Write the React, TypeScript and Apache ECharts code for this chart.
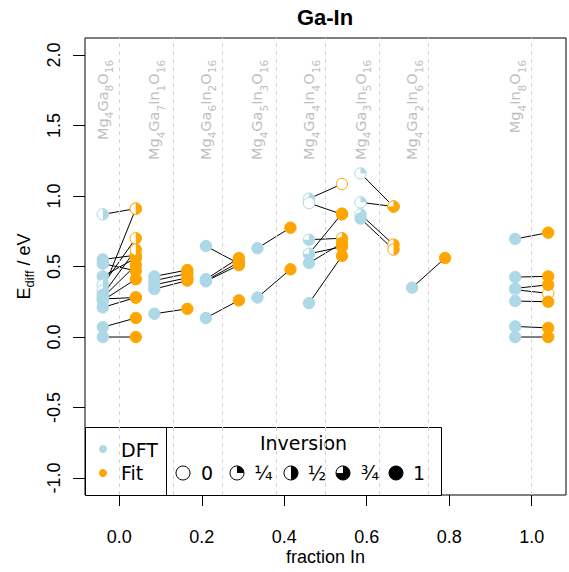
import React, { useEffect, useRef } from 'react';
import * as echarts from 'echarts';

const fractions = [0, 0.125, 0.25, 0.375, 0.5, 0.625, 0.75, 1.0];
const compositions = [
  'Mg4Ga8O16', 'Mg4Ga7In1O16', 'Mg4Ga6In2O16', 'Mg4Ga5In3O16',
  'Mg4Ga4In4O16', 'Mg4Ga3In5O16', 'Mg4Ga2In6O16', 'Mg4In8O16',
];

const dftEnergy = [
  [0.87, 0.55, 0.52, 0.43, 0.37, 0.33, 0.30, 0.28, 0.26, 0.27, 0.21, 0.07, 0.0],
  [0.43, 0.40, 0.37, 0.34, 0.165],
  [0.645, 0.41, 0.40, 0.395, 0.135],
  [0.63, 0.28],
  [0.98, 0.95, 0.69, 0.59, 0.59, 0.525, 0.24],
  [1.16, 0.955, 0.87, 0.84],
  [0.35],
  [0.695, 0.425, 0.335, 0.345, 0.255, 0.075, 0.0],
];
const fitEnergy = [
  [0.91, 0.58, 0.47, 0.56, 0.70, 0.91, 0.62, 0.51, 0.41, 0.28, 0.28, 0.135, 0.0],
  [0.475, 0.45, 0.42, 0.40, 0.20],
  [0.52, 0.56, 0.53, 0.51, 0.26],
  [0.775, 0.48],
  [1.085, 0.87, 0.70, 0.875, 0.64, 0.665, 0.575],
  [0.925, 0.925, 0.655, 0.62],
  [0.56],
  [0.74, 0.43, 0.31, 0.37, 0.25, 0.065, 0.0],
];
const dftInversion = [
  [0.5, 1, 1, 1, 0.5, 0.5, 1, 1, 1, 1, 1, 1, 1],
  [1, 1, 1, 1, 1],
  [1, 1, 1, 1, 1],
  [1, 1],
  [0.25, 0, 0.75, 0.75, 0.75, 1, 1],
  [0.25, 0.25, 0.5, 1],
  [1],
  [1, 1, 0, 1, 1, 1, 1],
];
const fitInversion = [
  [0.5, 1, 1, 1, 0.5, 0.5, 0.5, 1, 1, 1, 1, 1, 1],
  [1, 1, 1, 1, 1],
  [1, 1, 1, 1, 1],
  [1, 1],
  [0, 1, 0.75, 1, 1, 1, 1],
  [0.75, 0.75, 0.5, 0.5],
  [1],
  [1, 1, 0, 1, 1, 1, 1],
];

const xTicks = [0, 0.2, 0.4, 0.6, 0.8, 1.0];
const yTicks = [-1, -0.5, 0, 0.5, 1, 1.5, 2];
const dividers = [0, 0.125, 0.25, 0.375, 0.5, 0.625, 0.75, 1.0];
const inversionLevels = [0, 0.25, 0.5, 0.75, 1];
const inversionLabels = ['0', '¼', '½', '¾', '1'];

const DFT_COLOR = '#ADD8E6';
const FIT_COLOR = '#FFA500';
const OFFSET = 0.04;
const LABEL_Y = 2.0;

const AXIS_FONT = '"Liberation Sans", Arial, sans-serif';
const DEJAVU = '"DejaVu Sans", sans-serif';

function pieMarker(cx: number, cy: number, r: number, f: number, color: string) {
  const children: any[] = [
    {
      type: 'circle',
      shape: { cx, cy, r },
      style: { fill: f >= 1 ? color : '#ffffff', stroke: color, lineWidth: 1 },
    },
  ];
  if (f > 0 && f < 1) {
    children.push({
      type: 'sector',
      shape: {
        cx, cy, r0: 0, r,
        startAngle: -Math.PI / 2,
        endAngle: -Math.PI / 2 + 2 * Math.PI * f,
        clockwise: true,
      },
      style: { fill: color },
    });
  }
  return children;
}

export default function App() {
  const ref = useRef<HTMLDivElement>(null);

  useEffect(() => {
    if (!ref.current) return;
    const chart = echarts.init(ref.current, undefined, { renderer: 'svg' });

    const pairData: number[][] = [];
    const pointData: number[][] = [];
    fractions.forEach((f, g) => {
      dftEnergy[g].forEach((e, i) => {
        pairData.push([f - OFFSET, e, f + OFFSET, fitEnergy[g][i]]);
      });
    });
    fractions.forEach((f, g) => {
      dftEnergy[g].forEach((e, i) => pointData.push([f - OFFSET, e, dftInversion[g][i], 0]));
    });
    fractions.forEach((f, g) => {
      fitEnergy[g].forEach((e, i) => pointData.push([f + OFFSET, e, fitInversion[g][i], 1]));
    });
    const labelData = fractions.map((f, i) => [f - OFFSET, LABEL_Y, i]);

    const richName = (s: string) =>
      s.replace(/([A-Za-z]+)/g, '{m|$1}').replace(/(\d+)/g, '{s|$1}');

    const legendChildren: any[] = [
      { type: 'rect', shape: { x: 85.5, y: 427.5, width: 81, height: 68 }, style: { fill: '#fff', stroke: '#000', lineWidth: 1 } },
      { type: 'rect', shape: { x: 166.5, y: 427.5, width: 275, height: 68 }, style: { fill: '#fff', stroke: '#000', lineWidth: 1 } },
      { type: 'circle', shape: { cx: 103, cy: 449, r: 4 }, style: { fill: DFT_COLOR } },
      { type: 'circle', shape: { cx: 103, cy: 473, r: 4 }, style: { fill: FIT_COLOR } },
      { type: 'text', x: 121, y: 450, style: { text: 'DFT', fill: '#000', font: `19px ${DEJAVU}`, align: 'left', verticalAlign: 'middle' } },
      { type: 'text', x: 121, y: 473, style: { text: 'Fit', fill: '#000', font: `19px ${DEJAVU}`, align: 'left', verticalAlign: 'middle' } },
      { type: 'text', x: 303.5, y: 443, style: { text: 'Inversion', fill: '#000', font: `19px ${DEJAVU}`, align: 'center', verticalAlign: 'middle' } },
    ];
    const symX = [183, 237, 291, 343, 396];
    const symLabelX = [207, 263.5, 317, 370, 419];
    inversionLevels.forEach((lv, i) => {
      pieMarker(symX[i], 473, 7, lv, '#000').forEach((c) => legendChildren.push(c));
      legendChildren.push({
        type: 'text', x: symLabelX[i], y: 473,
        style: { text: inversionLabels[i], fill: '#000', font: `19px ${DEJAVU}`, align: 'center', verticalAlign: 'middle' },
      });
    });

    const option: any = {
      animation: false,
      backgroundColor: '#ffffff',
      grid: {
        left: 85, right: 3, top: 38, bottom: 77,
        containLabel: false,
        outerBoundsMode: 'none',
        show: true, borderColor: '#000', borderWidth: 1, backgroundColor: 'transparent',
      },
      xAxis: {
        type: 'value',
        min: -0.0832, max: 1.0832,
        name: 'fraction In',
        nameLocation: 'middle',
        nameGap: 53,
        nameMoveOverlap: false,
        nameTextStyle: { fontFamily: AXIS_FONT, fontSize: 18, color: '#000' },
        axisLine: { show: false, onZero: false },
        splitLine: { show: false },
        axisTick: { show: true, inside: false, length: 11, customValues: xTicks, lineStyle: { color: '#000' } },
        axisLabel: {
          customValues: xTicks, margin: 33,
          fontFamily: AXIS_FONT, fontSize: 18, color: '#000',
          formatter: (v: number) => v.toFixed(1),
        },
      },
      yAxis: {
        type: 'value',
        min: -1.12, max: 2.12,
        name: '{a|E}{b|diff}{a| / eV}',
        nameLocation: 'middle',
        nameGap: 49,
        nameMoveOverlap: false,
        nameTextStyle: {
          rich: {
            a: { fontFamily: AXIS_FONT, fontSize: 18, color: '#000', lineHeight: 24 },
            b: { fontFamily: AXIS_FONT, fontSize: 13, color: '#000', verticalAlign: 'bottom' },
          },
        },
        axisLine: { show: false, onZero: false },
        splitLine: { show: false },
        axisTick: { show: true, inside: false, length: 12, customValues: yTicks, lineStyle: { color: '#000' } },
        axisLabel: {
          customValues: yTicks, rotate: 90, margin: 22,
          fontFamily: AXIS_FONT, fontSize: 18, color: '#000',
          formatter: (v: number) => v.toFixed(1),
        },
      },
      graphic: [
        {
          type: 'text', x: 325, y: 17, z: 10,
          style: { text: 'Ga-In', fill: '#000', font: `bold 22px ${AXIS_FONT}`, align: 'center', verticalAlign: 'middle' },
        },
        { type: 'group', z: 100, children: legendChildren },
      ],
      series: [
        {
          type: 'custom',
          name: 'pairs',
          silent: true,
          z: 2,
          encode: { x: [0, 2], y: [1, 3] },
          data: pairData,
          renderItem: (params: any, api: any) => {
            const p1 = api.coord([api.value(0), api.value(1)]);
            const p2 = api.coord([api.value(2), api.value(3)]);
            return {
              type: 'line',
              shape: { x1: p1[0], y1: p1[1], x2: p2[0], y2: p2[1] },
              style: { stroke: '#000', lineWidth: 1 },
            };
          },
          markLine: {
            silent: true,
            symbol: 'none',
            label: { show: false },
            lineStyle: { type: [4, 4], color: '#d3d3d3', width: 1 },
            data: dividers.map((x) => ({ xAxis: x })),
          },
        },
        {
          type: 'custom',
          name: 'labels',
          silent: true,
          z: 1,
          encode: { x: 0, y: 1 },
          data: labelData,
          renderItem: (params: any, api: any) => {
            const p = api.coord([api.value(0), api.value(1)]);
            const idx = api.value(2) as number;
            return {
              type: 'text',
              x: p[0], y: p[1] + 5,
              rotation: Math.PI / 2,
              style: {
                text: richName(compositions[idx]),
                align: 'right',
                verticalAlign: 'middle',
                rich: {
                  m: { fontFamily: DEJAVU, fontSize: 14.5, fill: '#bebebe', lineHeight: 24 },
                  s: { fontFamily: DEJAVU, fontSize: 10.5, fill: '#bebebe', verticalAlign: 'bottom' },
                },
              },
            };
          },
        },
        {
          type: 'custom',
          name: 'points',
          silent: true,
          z: 3,
          encode: { x: 0, y: 1 },
          data: pointData,
          renderItem: (params: any, api: any) => {
            const p = api.coord([api.value(0), api.value(1)]);
            const f = api.value(2) as number;
            const color = api.value(3) === 0 ? DFT_COLOR : FIT_COLOR;
            return { type: 'group', children: pieMarker(p[0], p[1], 5.7, f, color) };
          },
        },
      ],
    };

    chart.setOption(option);
    return () => chart.dispose();
  }, []);

  return (
    <div
      ref={ref}
      style={{ position: 'fixed', left: 0, top: 0, width: 569, height: 572, background: '#fff' }}
    />
  );
}
